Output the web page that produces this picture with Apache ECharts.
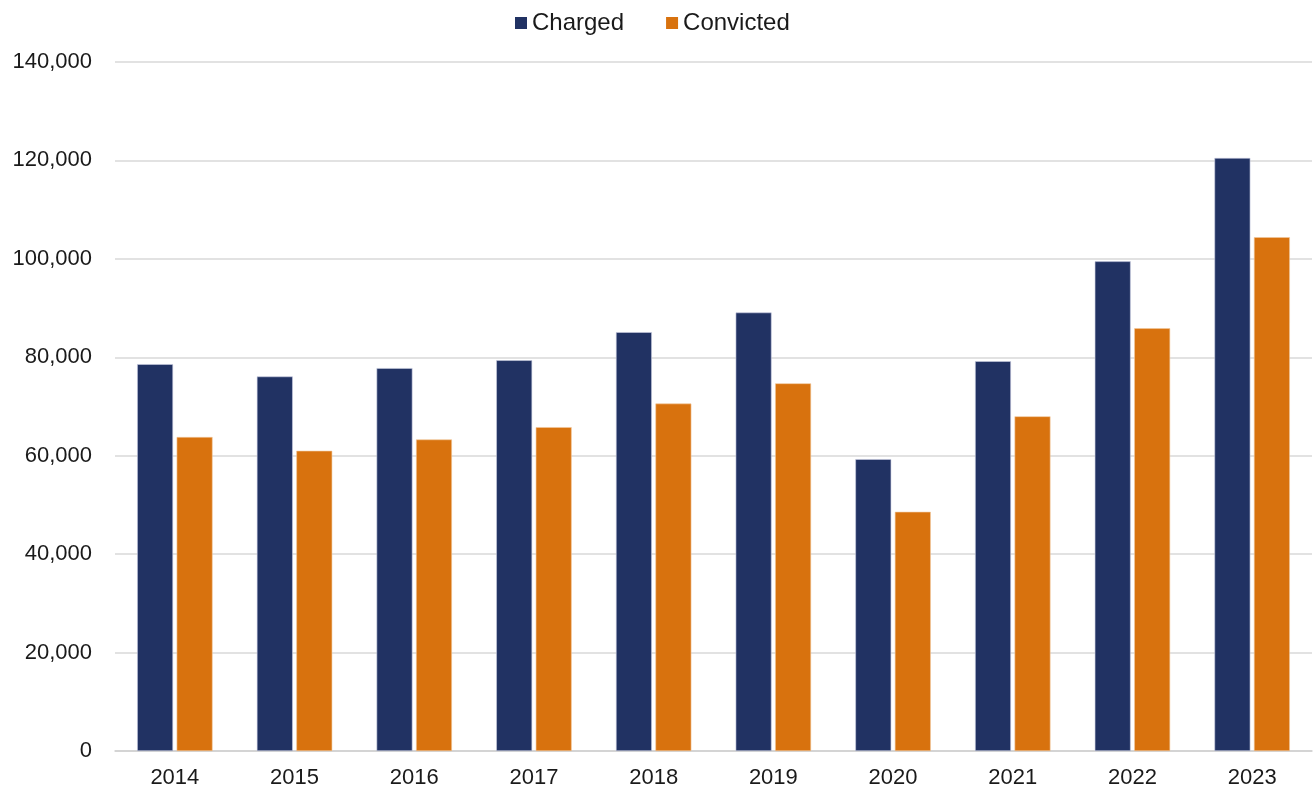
<!DOCTYPE html>
<html>
<head>
<meta charset="utf-8">
<script src="https://cdn.jsdelivr.net/npm/echarts@6/dist/echarts.min.js"></script>
<style>
  html, body { margin: 0; padding: 0; background: #ffffff; }
  #chart { width: 1314px; height: 792px; }
</style>
</head>
<body>
<div id="chart"></div>
<script>
// Yearly totals of people charged and convicted
const years = ['2014', '2015', '2016', '2017', '2018', '2019', '2020', '2021', '2022', '2023'];
const charged = [78600, 76100, 77800, 79400, 85100, 89100, 59300, 79200, 99500, 120500];
const convicted = [63800, 61000, 63300, 65800, 70600, 74700, 48600, 68000, 85900, 104400];

const chart = echarts.init(document.getElementById('chart'));
const font = 'Liberation Sans, Arial, sans-serif';

chart.setOption({
  animation: false,
  backgroundColor: '#ffffff',
  legend: {
    top: 6,
    left: 510,
    itemWidth: 12,
    itemHeight: 12,
    itemGap: 42,
    icon: 'rect',
    itemStyle: { borderWidth: 0 },
    textStyle: { fontFamily: font, fontSize: 24, color: '#1a1a1a' },
    data: ['Charged', 'Convicted']
  },
  grid: { left: 115, right: 2, top: 62, bottom: 41 },
  xAxis: {
    type: 'category',
    data: years,
    axisLine: { lineStyle: { color: '#d0d0d0', width: 1.5 } },
    axisTick: { show: false },
    axisLabel: { fontFamily: font, fontSize: 22, color: '#1a1a1a', margin: 16 }
  },
  yAxis: {
    type: 'value',
    min: 0,
    max: 140000,
    interval: 20000,
    axisLine: { show: false },
    axisTick: { show: false },
    splitLine: { lineStyle: { color: '#d9d9d9', width: 1.5 } },
    axisLabel: {
      fontFamily: font, fontSize: 22, color: '#1a1a1a', margin: 23,
      formatter: v => v.toLocaleString('en-US')
    }
  },
  series: [
    {
      name: 'Charged',
      type: 'bar',
      data: charged,
      barGap: '10%',
      barCategoryGap: '37%',
      itemStyle: { color: '#213263', borderColor: '#c9cde0', borderWidth: 0.6 }
    },
    {
      name: 'Convicted',
      type: 'bar',
      data: convicted,
      itemStyle: { color: '#d8720e', borderColor: '#f2c79c', borderWidth: 0.6 }
    }
  ]
});
</script>
</body>
</html>
